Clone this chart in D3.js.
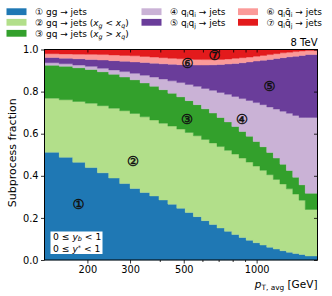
<!DOCTYPE html>
<html>
<head>
<meta charset="utf-8">
<script src="https://cdn.jsdelivr.net/npm/d3@7"></script>
<style>
  body { margin: 0; background: #fff; }
  svg { display: block; font-family: "DejaVu Sans", sans-serif; }
</style>
</head>
<body>
<div id="chart"></div>
<script>
// pT,avg bin edges [GeV]
const edges = [133, 153, 174, 196, 220, 245, 272, 300, 330, 362, 395, 430, 468, 507, 548, 592,
    638, 686, 737, 790, 846, 905, 967, 1032, 1101, 1172, 1248, 1327, 1410, 1497, 1588, 1784];

// subprocess fractions per bin
const gg = [.512, .488, .464, .439, .414, .389, .363, .340, .321, .304, .285, .265, .246, .226, .206, .187,
    .169, .152, .136, .121, .107, .094, .082, .071, .061, .052, .044, .037, .031, .026, .019];
const gqLo = [.257, .273, .289, .306, .319, .332, .346, .356, .359, .361, .365, .371, .376, .380, .384, .386,
    .387, .387, .385, .382, .377, .371, .364, .355, .344, .331, .317, .301, .282, .258, .221];
const gqHi = [.156, .159, .160, .160, .161, .161, .160, .160, .161, .160, .159, .156, .153, .151, .148, .145,
    .142, .138, .135, .131, .127, .123, .117, .112, .106, .101, .094, .087, .080, .073, .077];
const qiqi = [.012, .012, .013, .015, .017, .021, .026, .031, .037, .044, .051, .059, .068, .077, .087, .097,
    .108, .119, .131, .143, .156, .170, .185, .200, .216, .233, .252, .272, .294, .320, .360];
const qiqj = [.025, .027, .030, .033, .039, .044, .049, .054, .060, .066, .072, .079, .085, .093, .101, .111,
    .121, .133, .144, .157, .170, .183, .197, .211, .226, .240, .254, .268, .281, .295, .299];
const qiqibar = [.018, .020, .022, .024, .026, .027, .028, .029, .029, .029, .029, .028, .028, .027, .027, .026,
    .025, .024, .024, .024, .024, .023, .023, .023, .023, .023, .023, .022, .022, .021, .019];
const qiqjbar = [.020, .021, .022, .023, .024, .026, .028, .030, .033, .036, .039, .042, .044, .046, .047, .048,
    .048, .047, .045, .042, .039, .036, .032, .028, .024, .020, .016, .013, .010, .007, .005];

const seriesKeys = ['gg', 'gqLo', 'gqHi', 'qiqi', 'qiqj', 'qiqibar', 'qiqjbar'];
const seriesValues = [gg, gqLo, gqHi, qiqi, qiqj, qiqibar, qiqjbar];
const colors = ['#1f78b4', '#b2df8a', '#33a02c', '#cab2d6', '#6a3d9a', '#fb9a99', '#e31a1c'];
const circled = ['\u2460', '\u2461', '\u2462', '\u2463', '\u2464', '\u2465', '\u2466'];

// in-plot labels: [pT, fraction]
const labelPos = [[184, 0.267], [309, 0.471], [516, 0.670], [870, 0.670], [1132, 0.824], [519, 0.933], [671, 0.971]];

const xTickLabels = [200, 300, 500, 1000];
const xMinorTicks = [400, 600, 700, 800, 900];
const yTicks = [0, 0.2, 0.4, 0.6, 0.8, 1.0];

const width = 332, height = 296;
const margin = {top: 49.5, right: 14.5, bottom: 36, left: 44.5};

const svg = d3.select('#chart').append('svg')
    .attr('width', width)
    .attr('height', height);

const x = d3.scaleLog()
    .domain([edges[0], edges[edges.length - 1]])
    .range([margin.left, width - margin.right]);
const y = d3.scaleLinear()
    .domain([0, 1])
    .range([height - margin.bottom, margin.top]);

const rows = edges.slice(0, -1).map((e, i) => {
    const r = {lo: e};
    seriesKeys.forEach((k, j) => { r[k] = seriesValues[j][i]; });
    return r;
});
const stacked = d3.stack().keys(seriesKeys)(rows);

const area = d3.area()
    .curve(d3.curveStepAfter)
    .x(d => x(d.edge))
    .y0(d => y(d.v[0]))
    .y1(d => y(d.v[1]));

svg.append('g')
    .selectAll('path')
    .data(stacked)
    .join('path')
    .attr('fill', (d, i) => colors[i])
    .attr('stroke', (d, i) => colors[i])
    .attr('stroke-width', 0.4)
    .attr('d', s => {
        const pts = edges.map((e, i) => ({edge: e, v: s[Math.min(i, s.length - 1)]}));
        return area(pts);
    });

// in-plot circled numbers
svg.append('g')
    .selectAll('text')
    .data(labelPos)
    .join('text')
    .attr('x', d => x(d[0]))
    .attr('y', d => y(d[1]))
    .attr('dy', '0.36em')
    .attr('text-anchor', 'middle')
    .attr('font-size', 13.5)
    .attr('fill', '#111')
    .attr('stroke', '#111')
    .attr('stroke-width', 0.45)
    .text((d, i) => circled[i]);

const x0 = x.range()[0], x1 = x.range()[1], y0 = y.range()[0], y1 = y.range()[1];

const axisBottom = d3.axisBottom(x).tickValues(xTickLabels).tickFormat(d3.format('d'))
    .tickSizeInner(3.5).tickSizeOuter(0).tickPadding(2.5);
const gb = svg.append('g').attr('transform', `translate(0,${y0})`).call(axisBottom);
gb.append('g').selectAll('line').data(xMinorTicks).join('line')
    .attr('x1', d => x(d)).attr('x2', d => x(d)).attr('y1', 0).attr('y2', 2)
    .attr('stroke', '#000').attr('stroke-width', 0.8);

const axisTop = d3.axisTop(x).tickValues(xTickLabels.concat(xMinorTicks)).tickFormat('')
    .tickSizeInner(-3).tickSizeOuter(0);
svg.append('g').attr('transform', `translate(0,${y1})`).call(axisTop);

const axisLeft = d3.axisLeft(y).tickValues(yTicks).tickFormat(d3.format('.1f'))
    .tickSizeInner(3.5).tickSizeOuter(0).tickPadding(2.5);
svg.append('g').attr('transform', `translate(${x0},0)`).call(axisLeft);

const axisRight = d3.axisRight(y).tickValues(yTicks).tickFormat('')
    .tickSizeInner(-3.5).tickSizeOuter(0);
svg.append('g').attr('transform', `translate(${x1},0)`).call(axisRight);

svg.selectAll('.domain').remove();
svg.selectAll('.tick line').attr('stroke-width', 0.8);
svg.selectAll('.tick text').attr('font-size', 9.8).attr('font-family', '"DejaVu Sans", sans-serif').attr('fill', '#000');

// frame
svg.append('rect')
    .attr('x', x0).attr('y', y1)
    .attr('width', x1 - x0).attr('height', y0 - y1)
    .attr('fill', 'none').attr('stroke', '#000').attr('stroke-width', 1);

// axis titles
svg.append('text')
    .attr('transform', `translate(12.5,${(y0 + y1) / 2 - 2}) rotate(-90)`)
    .attr('text-anchor', 'middle')
    .attr('dy', '0.35em')
    .attr('font-size', 11)
    .text('Subprocess fraction');

function rich(sel, parts, size) {
    parts.forEach(p => {
        const t = sel.append('tspan').text(p.t);
        if (p.x != null) t.attr('x', p.x);
        if (p.it) t.attr('font-style', 'italic');
        if (p.sub) t.attr('font-size', size * 0.7).attr('dy', size * (p.sub === true ? 0.22 : p.sub));
        if (p.sup) t.attr('font-size', size * 0.7).attr('dy', -size * (p.sup === true ? 0.3 : p.sup));
        if (p.back) t.attr('dy', p.back * size);
    });
}

const xt = svg.append('text')
    .attr('x', x1).attr('y', 287.5)
    .attr('text-anchor', 'end')
    .attr('font-size', 10.5);
rich(xt, [{t: 'p', it: true}, {t: 'T, avg', sub: true}, {t: ' [GeV]', back: -0.22}], 10.5);

svg.append('text')
    .attr('x', x1).attr('y', 46)
    .attr('text-anchor', 'end')
    .attr('font-size', 10)
    .text('8 TeV');

// rapidity box (both lines in one text element)
svg.append('rect')
    .attr('x', 50.5).attr('y', 231.5).attr('width', 52).attr('height', 22.5)
    .attr('fill', '#fff');
const bt = svg.append('text').attr('x', 53).attr('y', 240).attr('font-size', 9.2);
rich(bt, [
    {t: '0 \u2264 '}, {t: 'y', it: true}, {t: 'b', it: true, sub: 0.14}, {t: ' < 1', back: -0.14},
    {t: '0 \u2264 ', x: 53, back: 11.5 / 9.2}, {t: 'y', it: true}, {t: '*', sup: 0.2}, {t: ' < 1', back: 0.2}
], 9.2);

// legend
const legendItems = [
    {col: 0, row: 0, parts: [{t: '\u2460 gg \u2192 jets'}]},
    {col: 0, row: 1, parts: [{t: '\u2461 gq \u2192 jets ('}, {t: 'x', it: true}, {t: 'g', it: true, sub: true},
        {t: ' < ', back: -0.22}, {t: 'x', it: true}, {t: 'q', it: true, sub: true}, {t: ')', back: -0.22}]},
    {col: 0, row: 2, parts: [{t: '\u2462 gq \u2192 jets ('}, {t: 'x', it: true}, {t: 'g', it: true, sub: true},
        {t: ' > ', back: -0.22}, {t: 'x', it: true}, {t: 'q', it: true, sub: true}, {t: ')', back: -0.22}]},
    {col: 1, row: 0, parts: [{t: '\u2463 q'}, {t: 'i', sub: true}, {t: 'q', back: -0.22}, {t: 'i', sub: true}, {t: ' \u2192 jets', back: -0.22}]},
    {col: 1, row: 1, parts: [{t: '\u2464 q'}, {t: 'i', sub: true}, {t: 'q', back: -0.22}, {t: 'j', sub: true}, {t: ' \u2192 jets', back: -0.22}]},
    {col: 2, row: 0, parts: [{t: '\u2465 q'}, {t: 'i', sub: true}, {t: 'q\u0304', back: -0.22}, {t: 'i', sub: true}, {t: ' \u2192 jets', back: -0.22}]},
    {col: 2, row: 1, parts: [{t: '\u2466 q'}, {t: 'i', sub: true}, {t: 'q\u0304', back: -0.22}, {t: 'j', sub: true}, {t: ' \u2192 jets', back: -0.22}]}
];
const colX = [6.5, 141.5, 238];
const rowY = [11.7, 22.3, 33.3];
const lg = svg.append('g');
legendItems.forEach((it, i) => {
    lg.append('rect')
        .attr('x', colX[it.col]).attr('y', rowY[it.row] - 3.4)
        .attr('width', 20).attr('height', 6.8)
        .attr('fill', colors[i]);
    const t = lg.append('text')
        .attr('x', colX[it.col] + 28.5).attr('y', rowY[it.row] + 3.3)
        .attr('font-size', 9);
    rich(t, it.parts, 9);
});
</script>
</body>
</html>
